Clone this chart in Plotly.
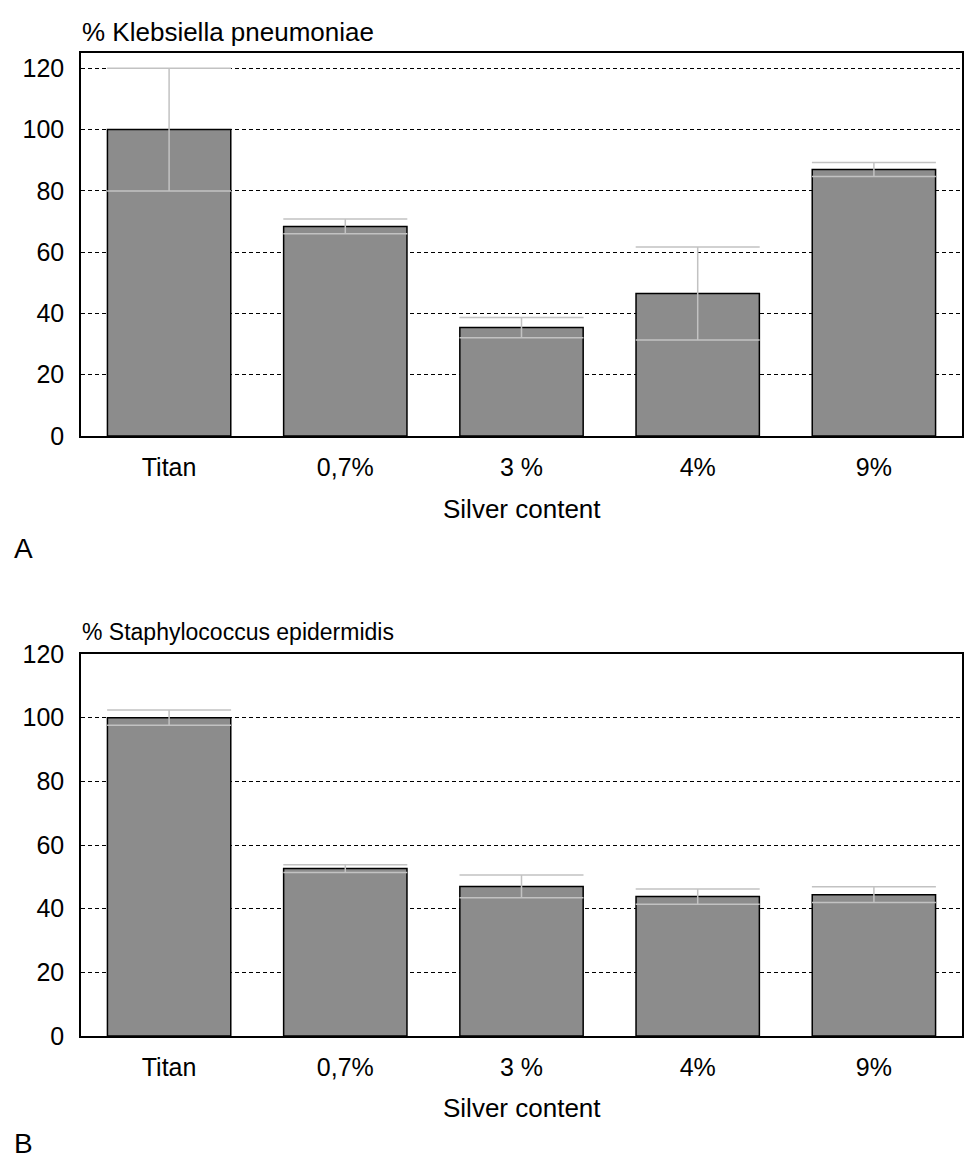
import plotly.graph_objects as go
from plotly.subplots import make_subplots

categories = ["Titan", "0,7%", "3 %", "4%", "9%"]
klebsiella = [100, 68.4, 35.4, 46.5, 87.0]
klebsiella_err = [20, 2.4, 3.3, 15.2, 2.3]
staph = [100, 52.6, 47.0, 43.8, 44.4]
staph_err = [2.4, 1.2, 3.6, 2.4, 2.5]

OFF = 8            # page body margin of the browser
W, H = 977 - OFF, 1162 - OFF
L, R = 81 - OFF, 15
PW = W - L - R
FONT = "Liberation Sans, Arial, sans-serif"

def py(y):
    return 1 - (y - OFF) / H

def px(x):
    return (x - 81) / PW

fig = make_subplots(rows=2, cols=1)

for row, vals, errs in [(1, klebsiella, klebsiella_err), (2, staph, staph_err)]:
    fig.add_trace(go.Bar(
        x=categories, y=vals, width=0.7,
        marker=dict(color="#8c8c8c", line=dict(color="black", width=1.5)),
        error_y=dict(type="data", array=errs, visible=True,
                     color="#c2c2c2", thickness=1.5, width=62),
        showlegend=False,
    ), row=row, col=1)

axis_common = dict(showline=True, mirror=True, linecolor="black", linewidth=1.5,
                   automargin=False,
                   tickfont=dict(family=FONT, size=25, color="black"))

fig.update_xaxes(**axis_common, showgrid=False, ticks="", ticklabelstandoff=8)
fig.update_yaxes(**axis_common, showgrid=True, gridcolor="black", gridwidth=1,
                 griddash="4px,3px", dtick=20, ticks="", ticklabelstandoff=10,
                 zeroline=False)

fig.update_layout(
    xaxis=dict(domain=[0, 1], anchor="y"),
    yaxis=dict(domain=[py(436), py(53)], range=[0, 125]),
    xaxis2=dict(domain=[0, 1], anchor="y2"),
    yaxis2=dict(domain=[py(1036), py(654)], range=[0, 120]),
    width=W, height=H,
    margin=dict(l=L, r=R, t=0, b=0, autoexpand=False),
    plot_bgcolor="white", paper_bgcolor="white",
    bargap=0.3,
)

def ann(text, x, y, xanchor="left", size=23):
    fig.add_annotation(text=text, xref="paper", yref="paper",
                       x=px(x), y=py(y), xanchor=xanchor, yanchor="middle",
                       showarrow=False,
                       font=dict(family=FONT, size=size, color="black"))

ann("% Klebsiella pneumoniae", 80, 32, size=26)
ann("% Staphylococcus epidermidis", 80, 632, size=23)
ann("Silver content", 522, 509, xanchor="center", size=26)
ann("Silver content", 522, 1108, xanchor="center", size=26)
ann("A", 12, 548, size=28)
ann("B", 12, 1143, size=28)

fig.write_html("out.html")
